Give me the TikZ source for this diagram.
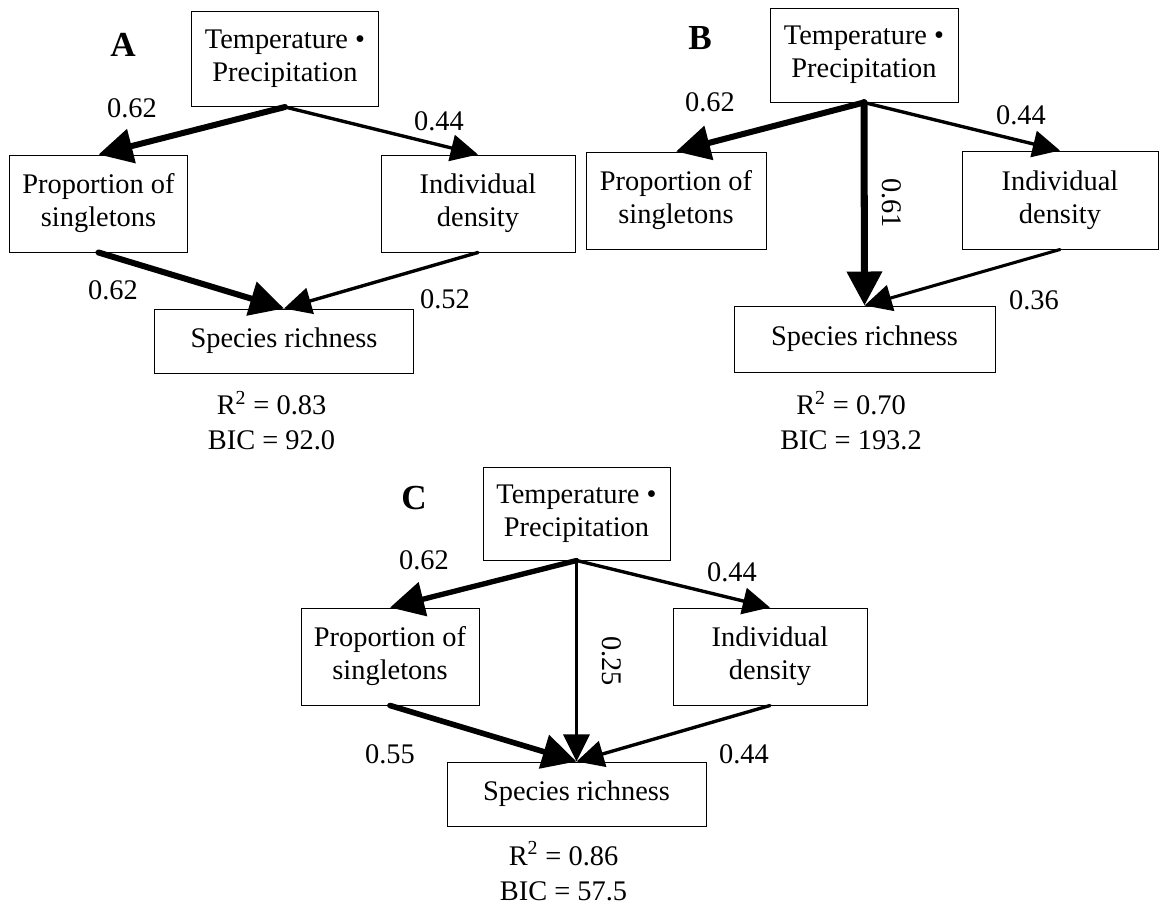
\documentclass[tikz,border=0pt]{standalone}
\usepackage{fontspec}
\setmainfont{Liberation Serif}
\usepackage{tikz}
\usetikzlibrary{arrows.meta}

\begin{document}
\begin{tikzpicture}[semvar/.style={draw=black, line width=0.7pt, align=center, inner sep=0pt, font=\fontsize{20.2}{23.5}\selectfont}, topvar/.style={semvar, minimum width=4.675cm, minimum height=2.375cm}, sidevar/.style={semvar, minimum width=4.45cm, minimum height=2.425cm}, denvar/.style={semvar, minimum width=4.85cm, minimum height=2.425cm}, richvar/.style={semvar, minimum width=6.475cm, minimum height=1.6cm}, coef/.style={inner sep=0pt, font=\fontsize{20.2}{23.5}\selectfont}, panel/.style={inner sep=0pt, font=\fontsize{25}{28}\selectfont\bfseries}, fitstat/.style={align=center, inner sep=0pt, font=\fontsize{20.2}{24.9}\selectfont}, arr/.style={-{Triangle[length=0.68cm, width=0.66cm]}, line width=2.4pt, line cap=round}, arrbig/.style={-{Triangle[length=0.85cm, width=0.85cm]}, line width=4.3pt, line cap=round}
]
  \useasboundingbox (0,0) rectangle (29.025,-22.675);
  % panel A
  \node[panel] (labA) at (3.075,-1.125) {A};
  \node[topvar] (tpA) at (7.125,-1.475) {Temperature •\\Precipitation};
  \node[sidevar] (psA) at (2.4625,-5.0875) {Proportion of\\singletons};
  \node[denvar] (idA) at (11.95,-5.0875) {Individual\\density};
  \node[richvar] (srA) at (7.1,-8.525) {Species richness};
  \node[fitstat] (stA) at (6.7875,-10.5125) {R\textsuperscript{2} = 0.83\\BIC = 92.0};
  \node[coef] (cA1) at (3.3,-2.7) {0.62};
  \node[coef] (cA2) at (10.975,-3.025) {0.44};
  \node[coef] (cA3) at (2.825,-7.25) {0.62};
  \node[coef] (cA4) at (11.125,-7.475) {0.52};
  \draw[arrbig] (tpA.south) -- (psA.north);
  \draw[arr] (tpA.south) -- (idA.north);
  \draw[arrbig] (psA.south) -- (srA.north);
  \draw[arr] (idA.south) -- (srA.north);
  % panel B
  \node[panel] (labB) at (17.5,-0.95) {B};
  \node[topvar, minimum width=4.7cm, minimum height=2.35cm] (tpB) at (21.6,-1.375) {Temperature •\\Precipitation};
  \node[sidevar, minimum width=4.5cm] (psB) at (16.9,-5.0125) {Proportion of\\singletons};
  \node[denvar, minimum width=4.9cm, minimum height=2.45cm] (idB) at (26.5,-5.0) {Individual\\density};
  \node[richvar, minimum width=6.525cm, minimum height=1.65cm] (srB) at (21.6125,-8.475) {Species richness};
  \node[fitstat] (stB) at (21.275,-10.5125) {R\textsuperscript{2} = 0.70\\BIC = 193.2};
  \node[coef] (cB1) at (17.75,-2.5625) {0.62};
  \node[coef] (cB2) at (25.525,-2.875) {0.44};
  \node[coef, rotate=-90] (cB3) at (22.3,-5.075) {0.61};
  \node[coef] (cB4) at (25.85,-7.5) {0.36};
  \draw[arrbig] (tpB.south) -- (psB.north);
  \draw[arr] (tpB.south) -- (idB.north);
  \draw[arrbig, line width=5pt] (tpB.south) -- (srB.north);
  \draw[arr, line width=2.2pt] (idB.south) -- (srB.north);
  % panel C
  \node[panel] (labC) at (10.35,-12.45) {C};
  \node[topvar, minimum height=2.325cm] (tpC) at (14.4125,-12.8375) {Temperature •\\Precipitation};
  \node[sidevar] (psC) at (9.75,-16.4125) {Proportion of\\singletons};
  \node[denvar] (idC) at (19.25,-16.4125) {Individual\\density};
  \node[richvar] (srC) at (14.4125,-19.85) {Species richness};
  \node[fitstat] (stC) at (14.0875,-21.78) {R\textsuperscript{2} = 0.86\\BIC = 57.5};
  \node[coef] (cC1) at (10.6,-14.0) {0.62};
  \node[coef] (cC2) at (18.3,-14.3) {0.44};
  \node[coef, rotate=-90] (cC3) at (15.3,-16.525) {0.25};
  \node[coef] (cC4) at (9.75,-18.85) {0.55};
  \node[coef] (cC5) at (18.6,-18.85) {0.44};
  \draw[arrbig, line width=3.8pt] (tpC.south) -- (psC.north);
  \draw[arr] (tpC.south) -- (idC.north);
  \draw[arr, line width=1.5pt] (tpC.south) -- (srC.north);
  \draw[arrbig, line width=4pt] (psC.south) -- (srC.north);
  \draw[arr] (idC.south) -- (srC.north);
\end{tikzpicture}
\end{document}
